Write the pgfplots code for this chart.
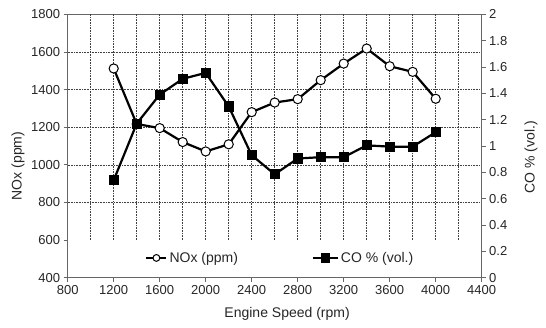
\documentclass[border=0pt]{standalone}
\usepackage{pgfplots}
\pgfplotsset{compat=1.18}
\usepackage{fontspec}
\setmainfont{Liberation Sans}
\tikzset{gridst/.style={black!75, densely dotted, line width=0.6pt}}

\begin{document}
\begin{tikzpicture}
\pgfplotsset{
  every axis/.append style={
    scale only axis, width=414pt, height=263.4pt,
    at={(0pt,0pt)}, anchor=south west,
    xmin=800, xmax=4400,
    tick label style={font=\fontsize{13}{15}\selectfont, text=black!85},
    /pgf/number format/assume math mode=true,
    /pgf/number format/1000 sep={},
    axis line style={black!60, line width=0.7pt},
    major tick length=4pt,
    tick style={black!60, line width=0.7pt},
    tick align=outside,
    legend style={draw=none, fill=none, inner sep=0pt, anchor=west,
      font=\fontsize{14}{16}\selectfont, text=black!85,
      /tikz/every even column/.append style={column sep=0pt}},
  },
}
\begin{axis}[
  ymin=400, ymax=1800,
  ytick={400,600,800,1000,1200,1400,1600,1800},
  xtick={800,1200,1600,2000,2400,2800,3200,3600,4000,4400},
  tick pos=left,
  xlabel={Engine Speed (rpm)},
  ylabel={NOx (ppm)},
  every axis x label/.style={at={(axis description cs:0.530,-0.138)}, anchor=center,
     font=\fontsize{14}{16}\selectfont, text=black!85},
  every axis y label/.style={at={(axis description cs:-0.120,0.424)}, anchor=center, rotate=90,
     font=\fontsize{14}{16}\selectfont, text=black!85},
  legend style={at={(axis description cs:0.187,0.075)}},
  legend image code/.code={\draw[mark repeat=2,mark phase=2,#1, mark size=3.4pt]
     plot coordinates {(0pt,0pt) (10pt,0pt) (20pt,0pt)};},
]
\pgfplotsinvokeforeach{800,1000,1200,1400,1600}{
  \draw[gridst] (axis cs:800,#1) -- (axis cs:4400,#1);
}
\pgfplotsinvokeforeach{1000,1200,1400,1600,1800,2000,2200,2400,2600,2800,3000,3200,3400,3600,3800,4000,4200}{
  \draw[gridst] (axis cs:#1,600) -- (axis cs:#1,1800);
}
\addplot[black, line width=2.2pt, mark=*, mark size=4.6pt,
  mark options={fill=white, draw=black, line width=1pt}]
coordinates {
(1200,1512) (1400,1217) (1600,1195) (1800,1121) (2000,1071) (2200,1109)
(2400,1280) (2600,1331) (2800,1349) (3000,1450) (3200,1538) (3400,1618)
(3600,1524) (3800,1494) (4000,1351)
};
\legend{NOx (ppm)}
\end{axis}

\begin{axis}[
  ymin=0, ymax=2,
  ytick={0,0.2,0.4,0.6,0.8,1,1.2,1.4,1.6,1.8,2},
  axis x line=none,
  axis y line*=right,
  ylabel={CO \% (vol.)},
  every axis y label/.style={at={(axis description cs:1.119,0.458)}, anchor=center, rotate=90,
     font=\fontsize{14}{16}\selectfont, text=black!85},
  legend style={at={(axis description cs:0.589,0.075)}},
  legend image code/.code={\draw[mark repeat=2,mark phase=2,#1, mark size=3.6pt]
     plot coordinates {(0pt,0pt) (12.5pt,0pt) (25pt,0pt)};},
]
\addplot[black, line width=2.2pt, mark=square*, mark size=4pt,
  mark options={fill=black, draw=black}]
coordinates {
(1200,0.74) (1400,1.17) (1600,1.39) (1800,1.51) (2000,1.555) (2200,1.30)
(2400,0.93) (2600,0.785) (2800,0.905) (3000,0.915) (3200,0.915) (3400,1.005)
(3600,0.995) (3800,0.995) (4000,1.105)
};
\legend{CO \% (vol.)}
\end{axis}
\pgfresetboundingbox
\path[use as bounding box] (-67.7pt,-50.3pt) rectangle (478.3pt,277.7pt);
\end{tikzpicture}
\end{document}
